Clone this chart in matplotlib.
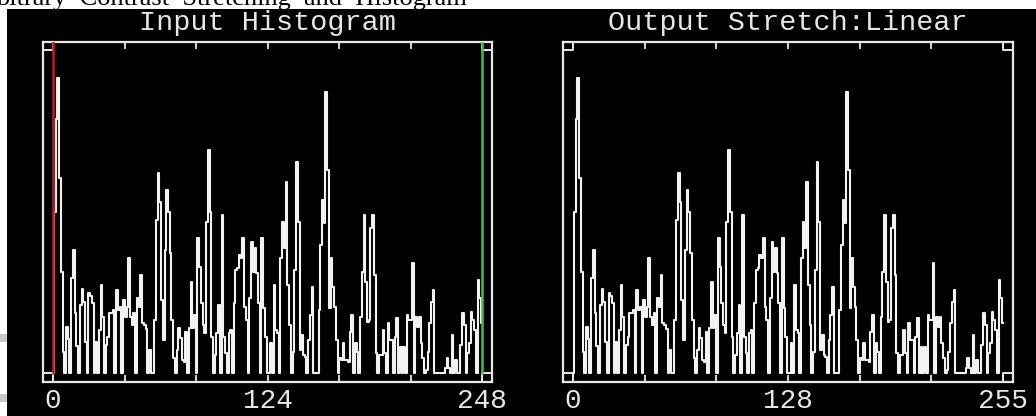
#!/usr/bin/env python3
"""
Contrast stretching dialog: input histogram vs linear output stretch
"""
import matplotlib
matplotlib.use("Agg")
import matplotlib.pyplot as plt
import numpy as np
from matplotlib.patches import Rectangle

# histogram counts per grey level (input image spans 0..248)
input_max = 248
output_max = 255
counts = [
    0, 161, 254, 295, 195, 101, 21, 0, 46, 34,
    0, 95, 123, 60, 27, 0, 68, 84, 71, 31,
    0, 80, 77, 70, 0, 31, 0, 43, 88, 56,
    0, 28, 36, 60, 60, 63, 0, 83, 63, 66,
    0, 73, 56, 66, 115, 56, 48, 60, 0, 75,
    66, 98, 50, 48, 44, 0, 23, 0, 0, 53,
    153, 200, 171, 73, 33, 123, 183, 161, 120, 53,
    15, 0, 23, 45, 35, 13, 11, 41, 0, 45,
    91, 45, 58, 0, 135, 106, 70, 48, 40, 151,
    223, 161, 36, 0, 18, 40, 68, 0, 158, 36,
    20, 0, 40, 43, 0, 70, 103, 105, 118, 115,
    135, 66, 53, 0, 75, 131, 101, 125, 100, 70,
    0, 135, 65, 36, 0, 0, 30, 0, 88, 43,
    40, 0, 115, 151, 125, 191, 88, 48, 0, 21,
    103, 211, 151, 23, 38, 18, 16, 0, 33, 58,
    86, 0, 0, 0, 63, 128, 173, 150, 281, 203,
    65, 115, 86, 66, 33, 0, 15, 13, 30, 13,
    13, 11, 41, 58, 0, 30, 21, 0, 56, 101,
    158, 91, 51, 53, 145, 158, 98, 20, 0, 18,
    18, 43, 20, 0, 50, 33, 33, 0, 36, 55,
    0, 26, 0, 26, 0, 58, 53, 53, 110, 0,
    56, 46, 56, 30, 15, 0, 3, 21, 50, 71,
    83, 0, 0, 0, 0, 0, 0, 5, 15, 5,
    0, 38, 0, 13, 0, 0, 28, 60, 48, 0,
    20, 30, 61, 53, 43, 0, 93, 75, 50,
]
hist_top = 323          # top of the plotting range
input_ticks = ['0', '124', '248']
output_ticks = ['0', '128', '255']

levels = np.arange(len(counts))
out_levels = levels * output_max / input_max

fg = '#e6e6e6'
font = 'Liberation Mono'

fig = plt.figure(figsize=(10.36, 4.16), dpi=100, facecolor='white')

# caption of the dialog, mostly cut off at the top edge
fig.text(-0.004, 411 / 416, 'bitrary  Contrast  Stretching  and  Histogram',
         family='Liberation Serif', fontsize=19, color='black',
         va='baseline', ha='left', zorder=0)
fig.patches.append(Rectangle((7 / 1036, 0), 1, 407 / 416, transform=fig.transFigure,
                             facecolor='black', edgecolor='none', zorder=1))
for y0 in (74 / 416, 14 / 416):
    fig.patches.append(Rectangle((0, y0), 7 / 1036, 8 / 416, transform=fig.transFigure,
                                 facecolor='#c8c8c8', edgecolor='none', zorder=1))


def draw_panel(ax, x, xmax, title, labels, markers):
    ax.set_zorder(2)
    ax.set_facecolor('black')
    ax.step(x, counts, where='mid', color='#f2f2f2', lw=1.5, zorder=3)

    pad = xmax * 10 / 429
    ax.set_xlim(-pad, xmax + pad)
    ax.set_ylim(-9, 331)

    # little corner boxes marking the data range
    for xe, xo in ((0, -pad), (xmax, xmax + pad)):
        ax.plot([xo, xe, xe], [hist_top, hist_top, 331], color=fg, lw=1.4, zorder=2)
        ax.plot([xo, xe, xe], [0, 0, -9], color=fg, lw=1.4, zorder=2)

    if markers:
        ax.plot([0, 0], [0, 331], color='#b3202a', lw=1.8, zorder=4)
        ax.plot([xmax, xmax], [0, 331], color='#3cc43c', lw=1.8, zorder=4)

    for s in ax.spines.values():
        s.set_color(fg)
        s.set_linewidth(1.6)

    ticks = np.linspace(0, xmax, 7)
    ax.set_xticks(ticks)
    ax.set_xticklabels([labels[0], '', '', labels[1], '', '', labels[2]])
    ax.tick_params(axis='x', direction='in', top=True, length=5, width=1.3,
                   color=fg, labelcolor=fg, labelsize=20, pad=4)
    for t in ax.get_xticklabels():
        t.set_family(font)
    ax.set_yticks([])
    ax.set_title(title, color=fg, family=font, fontsize=20.5, pad=9)


ax1 = fig.add_axes([43 / 1036, 34 / 416, 449 / 1036, 340 / 416])
draw_panel(ax1, levels, input_max, 'Input Histogram', input_ticks, True)

ax2 = fig.add_axes([563 / 1036, 34 / 416, 450 / 1036, 340 / 416])
draw_panel(ax2, out_levels, output_max, 'Output Stretch:Linear', output_ticks, False)

plt.savefig('out.png', dpi=100, facecolor=fig.get_facecolor())
